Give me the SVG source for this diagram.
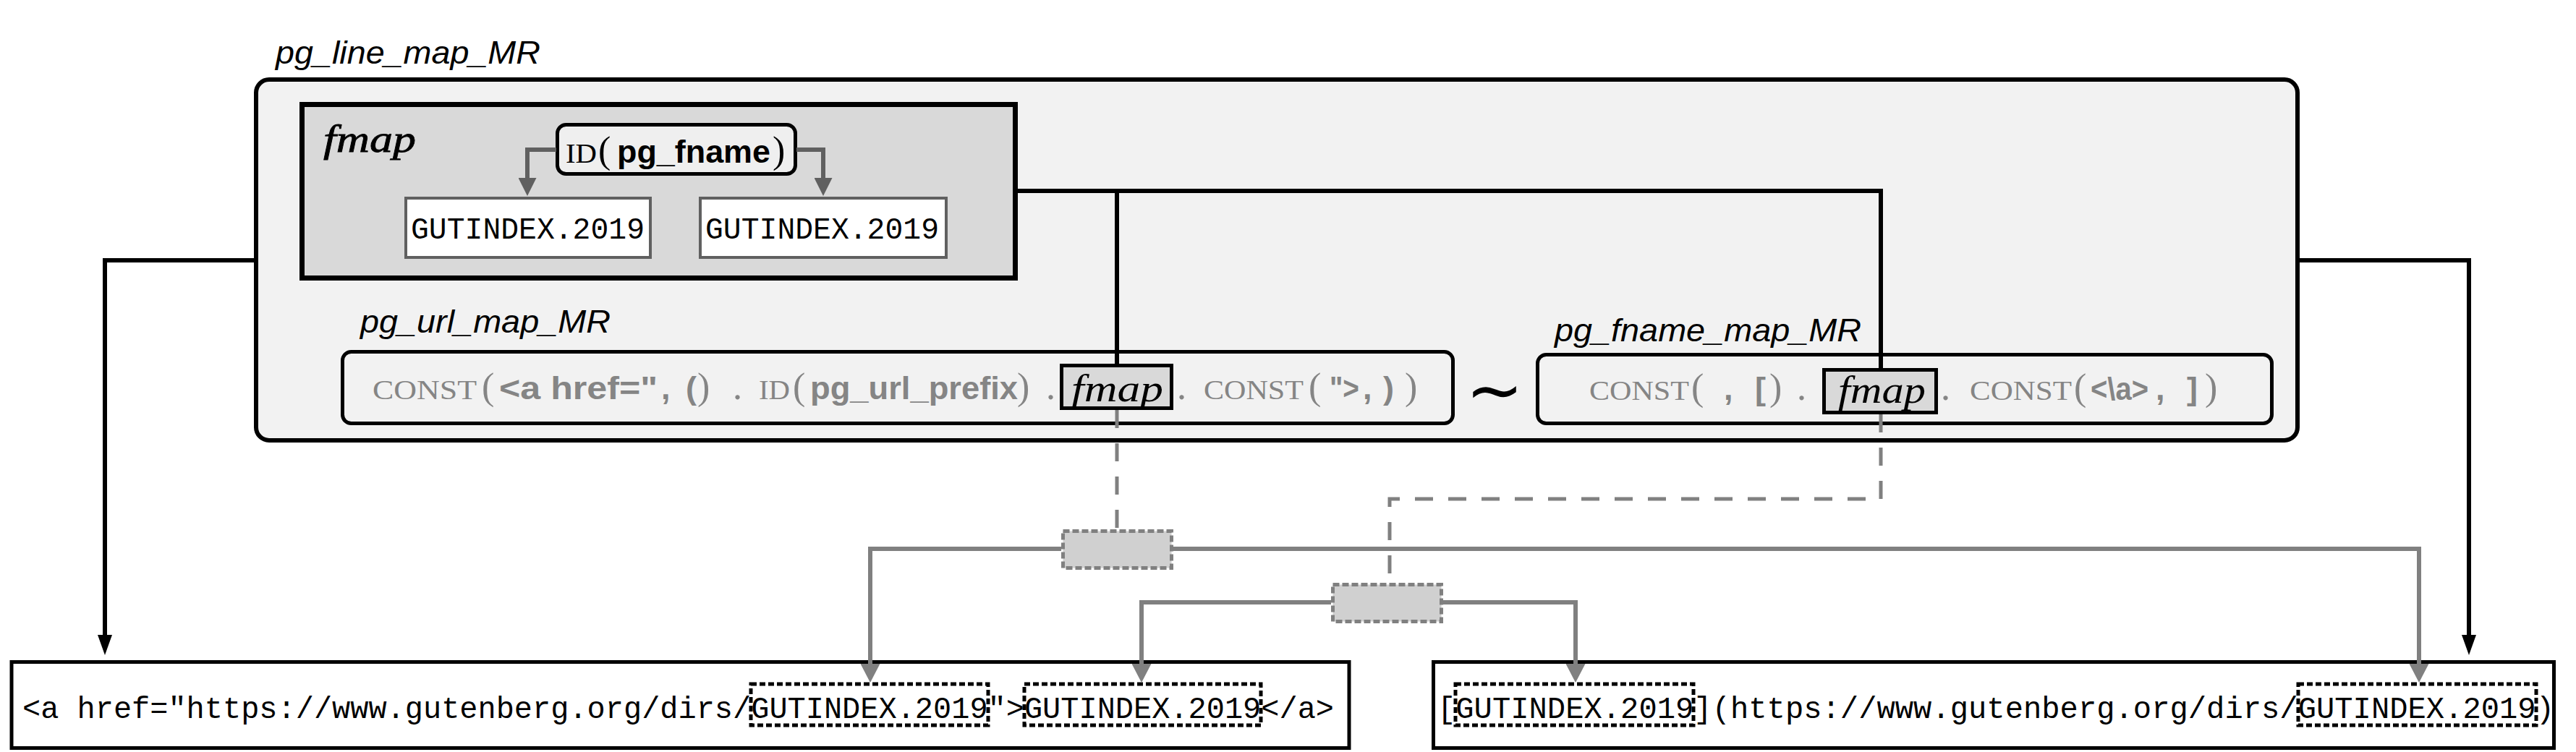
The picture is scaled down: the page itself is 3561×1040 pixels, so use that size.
<svg xmlns="http://www.w3.org/2000/svg" width="3561" height="1040" viewBox="0 0 3561 1040">
<style>
.lbl{font-family:"Liberation Sans",Arial,sans-serif;font-style:italic;font-size:44px;fill:#000}
.mi{font-family:"Liberation Serif","Times New Roman",serif;font-style:italic;font-size:52px;fill:#000}
.sc{font-family:"Liberation Serif","Times New Roman",serif;font-size:38px}
.par{font-family:"Liberation Serif","Times New Roman",serif;font-size:52px}
.bs{font-family:"Liberation Sans",Arial,sans-serif;font-weight:bold;font-size:45px}
.tt{font-family:"Liberation Mono","Courier New",monospace;font-size:42px;fill:#000}
.g{fill:#858585}
.blk{fill:none;stroke:#000;stroke-width:6}
.garr{fill:none;stroke:#808080;stroke-width:6}
.farr{fill:none;stroke:#606060;stroke-width:6}
.gdash{fill:none;stroke:#808080;stroke-width:5;stroke-dasharray:25 21}
.dbox{fill:none;stroke:#000;stroke-width:5;stroke-dasharray:8 4}
.sbox{fill:#d0d0d0;stroke:#808080;stroke-width:5;stroke-dasharray:9 4}
</style>
<defs>
<marker id="ab" markerUnits="userSpaceOnUse" markerWidth="28" markerHeight="20" refX="0" refY="10" orient="auto"><path d="M0,0 L28,10 L0,20 z" fill="#000"/></marker>
<marker id="ag" markerUnits="userSpaceOnUse" markerWidth="26" markerHeight="27" refX="0" refY="13.5" orient="auto"><path d="M0,0 L26,13.5 L0,27 z" fill="#808080"/></marker>
<marker id="af" markerUnits="userSpaceOnUse" markerWidth="25" markerHeight="25" refX="0" refY="12.5" orient="auto"><path d="M0,0 L25,12.5 L0,25 z" fill="#606060"/></marker>
</defs>
<rect width="3561" height="1040" fill="#fff"/>

<g id="pg_line_map_MR">
<text class="lbl" x="381" y="88" textLength="366" lengthAdjust="spacingAndGlyphs">pg_line_map_MR</text>
<rect x="354" y="110" width="2822" height="499" rx="18" fill="#f2f2f2" stroke="#000" stroke-width="6"/>
</g>

<g id="fmap">
<rect x="417.5" y="144.5" width="986" height="240" fill="#d9d9d9" stroke="#000" stroke-width="7"/>
<text class="mi" x="447" y="210" textLength="128" lengthAdjust="spacingAndGlyphs" stroke="#000" stroke-width="0.8">fmap</text>
</g>

<g id="id_pg_fname">
<rect x="770.5" y="172.5" width="329" height="68" rx="12" fill="#efefef" stroke="#000" stroke-width="5"/>
<text y="225"><tspan class="sc" x="782" textLength="43" lengthAdjust="spacingAndGlyphs">ID</tspan><tspan class="par" x="827">(</tspan><tspan class="bs" x="853" textLength="212" lengthAdjust="spacingAndGlyphs">pg_fname</tspan><tspan class="par" x="1068">)</tspan></text>
</g>

<g id="gut1">
<rect x="561" y="274" width="338" height="82" fill="#fff" stroke="#606060" stroke-width="4"/>
<text class="tt" x="568" y="330" textLength="323" lengthAdjust="spacingAndGlyphs">GUTINDEX.2019</text>
</g>
<g id="gut2">
<rect x="968" y="274" width="340" height="82" fill="#fff" stroke="#606060" stroke-width="4"/>
<text class="tt" x="975" y="330" textLength="323" lengthAdjust="spacingAndGlyphs">GUTINDEX.2019</text>
</g>

<g id="pg_url_map_MR">
<text class="lbl" x="498" y="460" textLength="346" lengthAdjust="spacingAndGlyphs">pg_url_map_MR</text>
<rect x="473.5" y="486.5" width="1535" height="99" rx="12" fill="#f2f2f2" stroke="#000" stroke-width="5"/>
<text class="g" y="552"><tspan class="sc" x="515" textLength="144" lengthAdjust="spacingAndGlyphs">CONST</tspan><tspan class="par" x="666">(</tspan><tspan class="bs" x="690" textLength="219" lengthAdjust="spacingAndGlyphs">&lt;a href="</tspan><tspan class="bs" x="914">,</tspan><tspan class="bs" x="948">(</tspan><tspan class="par" x="964">)</tspan><tspan class="par" x="1013">.</tspan><tspan class="sc" x="1049" textLength="43" lengthAdjust="spacingAndGlyphs">ID</tspan><tspan class="par" x="1096">(</tspan><tspan class="bs" x="1120" textLength="287" lengthAdjust="spacingAndGlyphs">pg_url_prefix</tspan><tspan class="par" x="1406">)</tspan><tspan class="par" x="1446">.</tspan><tspan class="par" x="1627">.</tspan><tspan class="sc" x="1664" textLength="138" lengthAdjust="spacingAndGlyphs">CONST</tspan><tspan class="par" x="1809">(</tspan><tspan class="bs" x="1838" textLength="41" lengthAdjust="spacingAndGlyphs">"&gt;</tspan><tspan class="bs" x="1884">,</tspan><tspan class="bs" x="1912">)</tspan><tspan class="par" x="1942">)</tspan></text>
<g id="fmap_url">
<rect x="1467.5" y="505.5" width="152" height="59" fill="#d9d9d9" stroke="#000" stroke-width="5"/>
<text class="mi" x="1481" y="555" font-size="48" textLength="127" lengthAdjust="spacingAndGlyphs">fmap</text>
</g>
</g>

<g id="sim">
<text x="2066" y="572" text-anchor="middle" font-family="DejaVu Sans,sans-serif" font-size="95" fill="#000">∼</text>
</g>

<g id="pg_fname_map_MR">
<text class="lbl" x="2149" y="472" textLength="424" lengthAdjust="spacingAndGlyphs">pg_fname_map_MR</text>
<rect x="2125.5" y="490.5" width="1015" height="95" rx="12" fill="#f2f2f2" stroke="#000" stroke-width="5"/>
<text class="g" y="553"><tspan class="sc" x="2197" textLength="138" lengthAdjust="spacingAndGlyphs">CONST</tspan><tspan class="par" x="2338">(</tspan><tspan class="bs" x="2383">,</tspan><tspan class="bs" x="2426">[</tspan><tspan class="par" x="2446">)</tspan><tspan class="par" x="2484">.</tspan><tspan class="par" x="2683">.</tspan><tspan class="sc" x="2723" textLength="141" lengthAdjust="spacingAndGlyphs">CONST</tspan><tspan class="par" x="2867">(</tspan><tspan class="bs" x="2890" textLength="80" lengthAdjust="spacingAndGlyphs">&lt;\a&gt;</tspan><tspan class="bs" x="2980">,</tspan><tspan class="bs" x="3023">]</tspan><tspan class="par" x="3048">)</tspan></text>
<g id="fmap_fname">
<rect x="2521.5" y="511.5" width="155" height="59" fill="#d9d9d9" stroke="#000" stroke-width="5"/>
<text class="mi" x="2541" y="557" font-size="48" textLength="121" lengthAdjust="spacingAndGlyphs">fmap</text>
</g>
</g>

<g id="split1"><rect x="1469.5" y="734.5" width="150" height="51" class="sbox"/></g>
<g id="split2"><rect x="1842.5" y="808.5" width="150" height="51" class="sbox"/></g>

<g id="html_out">
<rect x="16" y="915.5" width="1849" height="119" fill="#fff" stroke="#000" stroke-width="5"/>
<text class="tt" x="31" y="993" textLength="1813" lengthAdjust="spacingAndGlyphs">&lt;a href="https://www.gutenberg.org/dirs/GUTINDEX.2019"&gt;GUTINDEX.2019&lt;/a&gt;</text>
<rect x="1038" y="946" width="328" height="57" class="dbox"/>
<rect x="1416" y="946" width="327" height="57" class="dbox"/>
</g>

<g id="md_out">
<rect x="1981.5" y="915.5" width="1549" height="119" fill="#fff" stroke="#000" stroke-width="5"/>
<text class="tt" x="1987" y="993" textLength="1544" lengthAdjust="spacingAndGlyphs">[GUTINDEX.2019](https://www.gutenberg.org/dirs/GUTINDEX.2019)</text>
<rect x="2012" y="946" width="329" height="57" class="dbox"/>
<rect x="3177" y="946" width="329" height="57" class="dbox"/>
</g>

<g id="connectors">
<path class="farr" d="M769,207 H729 V246" marker-end="url(#af)"/>
<path class="farr" d="M1101,207 H1138 V246" marker-end="url(#af)"/>
<path class="blk" d="M1407,264 H2600 V509"/>
<path class="blk" d="M1544,264 V503"/>
<path class="blk" d="M351,360 H145 V878" marker-end="url(#ab)"/>
<path class="blk" d="M3179,360 H3413 V878" marker-end="url(#ab)"/>
<path class="gdash" d="M1544,567 V732"/>
<path class="gdash" d="M2600,573 V690 H1921 V806"/>
<path class="garr" d="M1467,759 H1203 V918" marker-end="url(#ag)"/>
<path class="garr" d="M1621,759 H3344 V918" marker-end="url(#ag)"/>
<path class="garr" d="M1840,833 H1578 V918" marker-end="url(#ag)"/>
<path class="garr" d="M1995,833 H2178 V918" marker-end="url(#ag)"/>
</g>
</svg>
